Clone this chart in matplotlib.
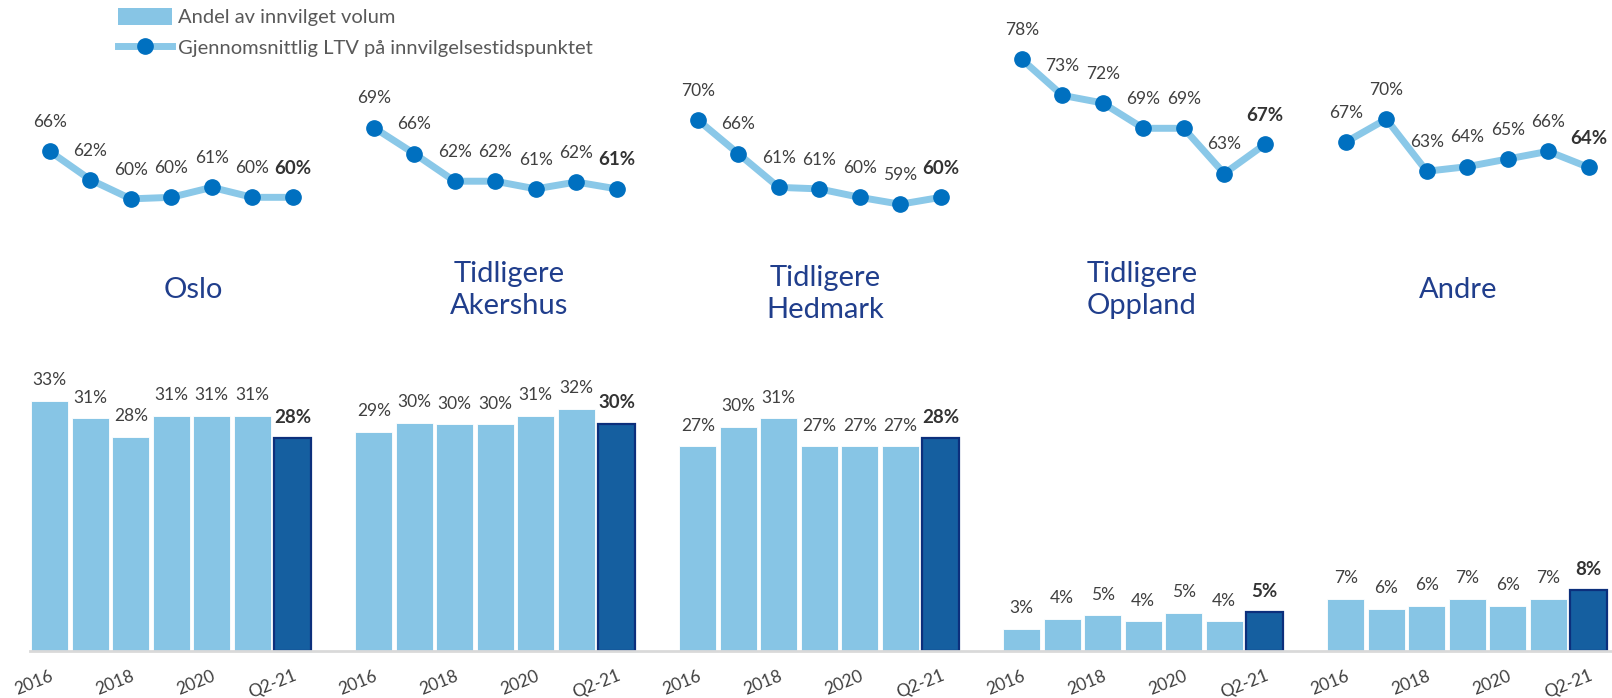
import matplotlib
matplotlib.use("Agg")
import matplotlib.pyplot as plt
from matplotlib.patches import Patch
from matplotlib.lines import Line2D
import numpy as np

plt.rcParams["font.family"] = ["Lato", "DejaVu Sans"]

regions = ["Oslo", "Tidligere\nAkershus", "Tidligere\nHedmark", "Tidligere\nOppland", "Andre"]
periods = ["2016", "2017", "2018", "2019", "2020", "2021", "Q2-21"]
tick_labels = ["2016", "2018", "2020", "Q2-21"]

# andel av innvilget volum (%)
andel_oslo = [33.0, 30.7, 28.2, 31.0, 31.0, 31.0, 28.1]
andel_akershus = [28.9, 30.1, 29.9, 29.9, 31.0, 31.9, 30.0]
andel_hedmark = [27.0, 29.6, 30.7, 27.0, 27.0, 27.0, 28.1]
andel_oppland = [2.9, 4.2, 4.7, 3.9, 5.0, 3.9, 5.1]
andel_andre = [6.9, 5.6, 6.0, 6.9, 5.9, 6.9, 8.0]

# gjennomsnittlig LTV ved innvilgelse (%)
ltv_oslo = [66.0, 62.3, 59.8, 60.0, 61.3, 60.0, 60.0]
ltv_akershus = [69.1, 65.7, 62.1, 62.1, 61.1, 62.0, 61.1]
ltv_hedmark = [70.1, 65.7, 61.3, 61.1, 60.0, 59.1, 60.0]
ltv_oppland = [78.0, 73.3, 72.3, 69.0, 69.0, 63.1, 66.9]
ltv_andre = [67.2, 70.2, 63.4, 64.0, 65.0, 66.0, 63.9]

andel = [andel_oslo, andel_akershus, andel_hedmark, andel_oppland, andel_andre]
ltv = [ltv_oslo, ltv_akershus, ltv_hedmark, ltv_oppland, ltv_andre]

light_blue = "#87C5E5"
dark_blue = "#155FA0"
dark_edge = "#0C2F7C"
line_blue = "#8AC8E8"
marker_blue = "#0070C0"
text_grey = "#404040"
title_blue = "#203E8C"

W, H = 1612, 698
fig = plt.figure(figsize=(W / 100, H / 100), dpi=100)

xlim = (-0.488, 38.574)
ax_bar = fig.add_axes([30 / W, (H - 651) / H, (W - 30) / W, 291 / H])
ax_line = fig.add_axes([30 / W, (H - 230) / H, (W - 30) / W, 210 / H])

n = len(periods)
for g, (bars, line) in enumerate(zip(andel, ltv)):
    x = np.arange(n) + g * (n + 1)
    colors = [light_blue] * (n - 1) + [dark_blue]
    edges = ["white"] * (n - 1) + [dark_edge]
    ax_bar.bar(x, bars, width=0.925, color=colors, edgecolor=edges, linewidth=[0.6] * (n - 1) + [1.6])
    for i, (xi, v) in enumerate(zip(x, bars)):
        last = i == n - 1
        ax_bar.annotate(f"{round(v)}%", (xi, v), xytext=(0, 15), textcoords="offset points",
                        ha="center", va="center", color="#333333" if last else text_grey,
                        fontsize=13.5 if last else 12.5, fontweight="bold" if last else "normal")

    ax_line.plot(x, line, color=line_blue, lw=5, marker="o", ms=11,
                 markerfacecolor=marker_blue, markeredgecolor=marker_blue, solid_capstyle="butt")
    for i, (xi, v) in enumerate(zip(x, line)):
        last = i == n - 1
        ax_line.annotate(f"{round(v)}%", (xi, v), xytext=(0, 21), textcoords="offset points",
                         ha="center", va="center", color="#333333" if last else text_grey,
                         fontsize=13.5 if last else 12.5, fontweight="bold" if last else "normal")

    # region name between the two panels
    fig.text((193 + 316.3 * g) / W, 1 - (290 + (4 if g == 2 else 0)) / H, regions[g],
             ha="center", va="center", fontsize=21, color=title_blue, linespacing=1.3)

ax_bar.set_xlim(xlim)
ax_bar.set_ylim(0, 38.4)
ax_line.set_xlim(xlim)
ax_line.set_ylim(55.74, 83.12)

ticks = [g * (n + 1) + i for g in range(len(regions)) for i in (0, 2, 4, 6)]
ax_bar.set_xticks(ticks)
ax_bar.set_xticklabels(tick_labels * len(regions), rotation=22, ha="right",
                       rotation_mode="anchor", fontsize=12.5, color=text_grey)
ax_bar.tick_params(axis="x", length=0, pad=12)
ax_bar.set_yticks([])
for s in ["top", "right", "left"]:
    ax_bar.spines[s].set_visible(False)
ax_bar.spines["bottom"].set_color("#D9D9D9")
ax_bar.spines["bottom"].set_linewidth(2)
ax_line.axis("off")

handles = [Patch(facecolor=light_blue, edgecolor="none"),
           Line2D([0], [0], color=line_blue, lw=5, marker="o", ms=11,
                  markerfacecolor=marker_blue, markeredgecolor=marker_blue)]
fig.legend(handles, ["Andel av innvilget volum", "Gjennomsnittlig LTV på innvilgelsestidspunktet"],
           loc="upper left", bbox_to_anchor=(118 / W, 1 - 8 / H), frameon=False,
           fontsize=14.5, labelcolor="#595959", handlelength=2.7, handleheight=0.9,
           handletextpad=0.3, labelspacing=0.6, borderpad=0, borderaxespad=0)

fig.savefig("out.png", dpi=100)
